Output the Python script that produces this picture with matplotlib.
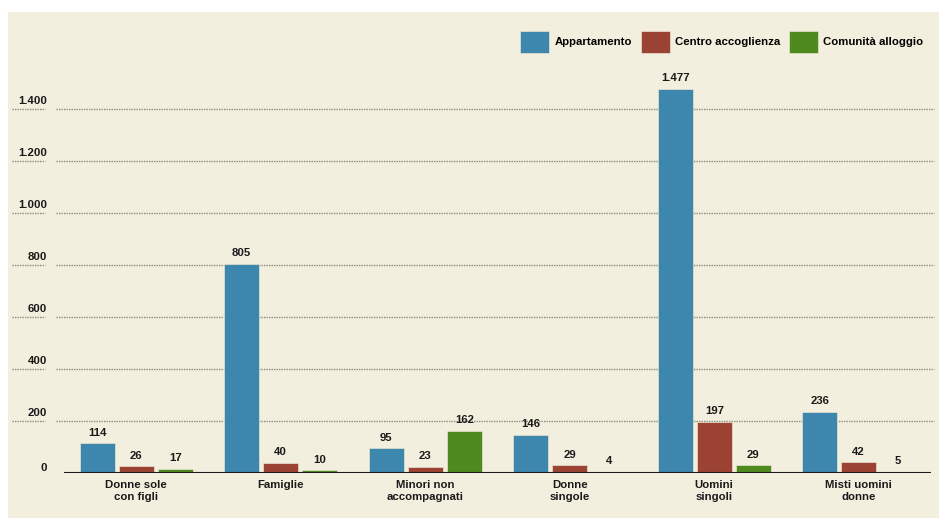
import numpy as np
import matplotlib.pyplot as plt
from matplotlib.patches import Rectangle
from matplotlib.transforms import blended_transform_factory

plt.rcParams['font.family'] = ['Liberation Sans', 'DejaVu Sans']
plt.rcParams['font.weight'] = 'bold'

categorie = ['Donne sole\ncon figli', 'Famiglie', 'Minori non\naccompagnati',
             'Donne\nsingole', 'Uomini\nsingoli', 'Misti uomini\ndonne']
serie = ['Appartamento', 'Centro accoglienza', 'Comunità alloggio']
appartamento = [114, 805, 95, 146, 1477, 236]
centro = [26, 40, 23, 29, 197, 42]
comunita = [17, 10, 162, 4, 29, 5]
yticks = [0, 200, 400, 600, 800, 1000, 1200, 1400]

colori = ['#3d86ae', '#9c4233', '#4f8a1f']
sfondo = '#f3efdf'
fs = 8.2


def fmt(v):
    return '{:,}'.format(v).replace(',', '.')


fig = plt.figure(figsize=(9.39, 5.18), dpi=100)
fig.patch.set_facecolor('white')
# cream panel behind everything
fig.patches.append(Rectangle((8 / 939, 0), 1, 1 - 12 / 518, transform=fig.transFigure,
                             facecolor=sfondo, edgecolor='none', zorder=-10))

ax = fig.add_axes([64 / 939, 45 / 518, 867 / 939, 416 / 518])
ax.set_facecolor('none')
ax.set_xlim(-0.5, 5.5)
ax.set_ylim(0, 1600)

x = np.arange(len(categorie))
w = 0.242
step = 0.27
for i, (vals, col) in enumerate(zip([appartamento, centro, comunita], colori)):
    bars = ax.bar(x + (i - 1) * step, vals, width=w, color=col, label=serie[i],
                  edgecolor='#e8e4d0', linewidth=0.5, zorder=3)
    for b, v in zip(bars, vals):
        ax.annotate(fmt(v), (b.get_x() + b.get_width() / 2, v), xytext=(0, 4),
                    textcoords='offset points', ha='center', va='bottom',
                    fontsize=fs, fontweight='bold', color='#1a1a1a', zorder=4)

# dotted grid lines with the tick labels sitting above a short dotted stub
tr = blended_transform_factory(fig.transFigure, ax.transData)
for t in yticks:
    if t > 0:
        ax.plot([56 / 939, 934 / 939], [t, t], transform=tr, color='#8a8a80',
                linestyle=(0, (1, 0.8)), linewidth=1.0, clip_on=False, zorder=1)
        ax.plot([12 / 939, 45 / 939], [t, t], transform=tr, color='#8a8a80',
                linestyle=(0, (1, 0.8)), linewidth=1.0, clip_on=False, zorder=1)
        ax.text(47 / 939, t + 12, fmt(t), transform=tr, ha='right', va='bottom',
                fontsize=fs, fontweight='bold', color='#1a1a1a')
    else:
        ax.text(47 / 939, t - 1, fmt(t), transform=tr, ha='right', va='bottom',
                fontsize=fs, fontweight='bold', color='#1a1a1a')

ax.axhline(0, color='#1a1a1a', linewidth=1.5, zorder=5)

for s in ax.spines.values():
    s.set_visible(False)
ax.set_yticks([])
ax.set_xticks(x)
ax.set_xticklabels(categorie, fontsize=fs, fontweight='bold', color='#1a1a1a',
                   linespacing=1.2)
ax.tick_params(axis='x', length=0, pad=5)

fig.legend(loc='upper right', bbox_to_anchor=(928 / 939, 1 - 26 / 518), ncol=3,
           frameon=False, fontsize=fs, handlelength=2.55, handleheight=2.6,
           handletextpad=0.5, columnspacing=0.7, borderaxespad=0)

fig.savefig('out.png', dpi=100, facecolor=fig.get_facecolor())
